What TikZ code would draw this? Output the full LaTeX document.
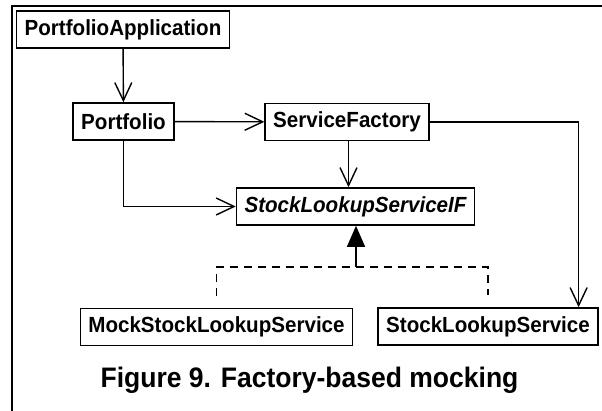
\documentclass[tikz,border=0pt]{standalone}
\usepackage{fontspec}
\setmainfont{Liberation Sans}
\newfontfamily\boxfont[FakeStretch=0.94]{Liberation Sans}
\usepackage{tikz}
\usetikzlibrary{arrows.meta}

\begin{document}
\begin{tikzpicture}[x=1pt,y=-1pt]
	\useasboundingbox (0,0) rectangle (602,411);
	% page frame, only top and left edges
	\draw[line width=2pt] (602,6) -- (12,6) -- (12,411);
	\begin{scope}[every node/.style={draw, line width=1.6pt, inner xsep=8pt, minimum height=37pt,
	              font=\boxfont\fontsize{21.9}{25}\selectfont\bfseries}]
		\node (app)   at (123,29.5)  {PortfolioApplication};
		\node (port)  at (123.5,121.5) {Portfolio};
		\node (sf)    at (347,122)   {ServiceFactory};
		\node (iface) at (355.5,206.5) {\itshape StockLookupServiceIF};
		\node (mock)  at (216.5,327) {MockStockLookupService};
		\node (sls)   at (488,326.5) {StockLookupService};
	\end{scope}
	\begin{scope}[>={Straight Barb[length=18pt,width=17pt]}, line width=1.4pt]
		\path (app) edge[->] (port);
		\path (port) edge[->] (sf);
		\path ([xshift=1.5pt]sf.south) edge[->] ([xshift=1.5pt]sf.south |- iface.north);
		\draw[->] (port) |- (iface);
		\draw[->] (sf) -| ([xshift=-20pt]sls.north east);
	\end{scope}
	% realization of the interface
	\begin{scope}[line width=1.4pt]
		\coordinate (join) at (356,267);
		\draw[dash pattern=on 8pt off 6pt] ([yshift=12pt]mock.north) |- (join) -| ([yshift=12pt]sls.north);
		\draw[-{Triangle[length=21pt,width=18pt]}] (join) -- (join |- iface.south);
	\end{scope}
	\node[anchor=base, font=\boxfont\fontsize{28.2}{32}\selectfont\bfseries] (cap) at (309.5,387) {Figure 9. Factory-based mocking};
\end{tikzpicture}
\end{document}
